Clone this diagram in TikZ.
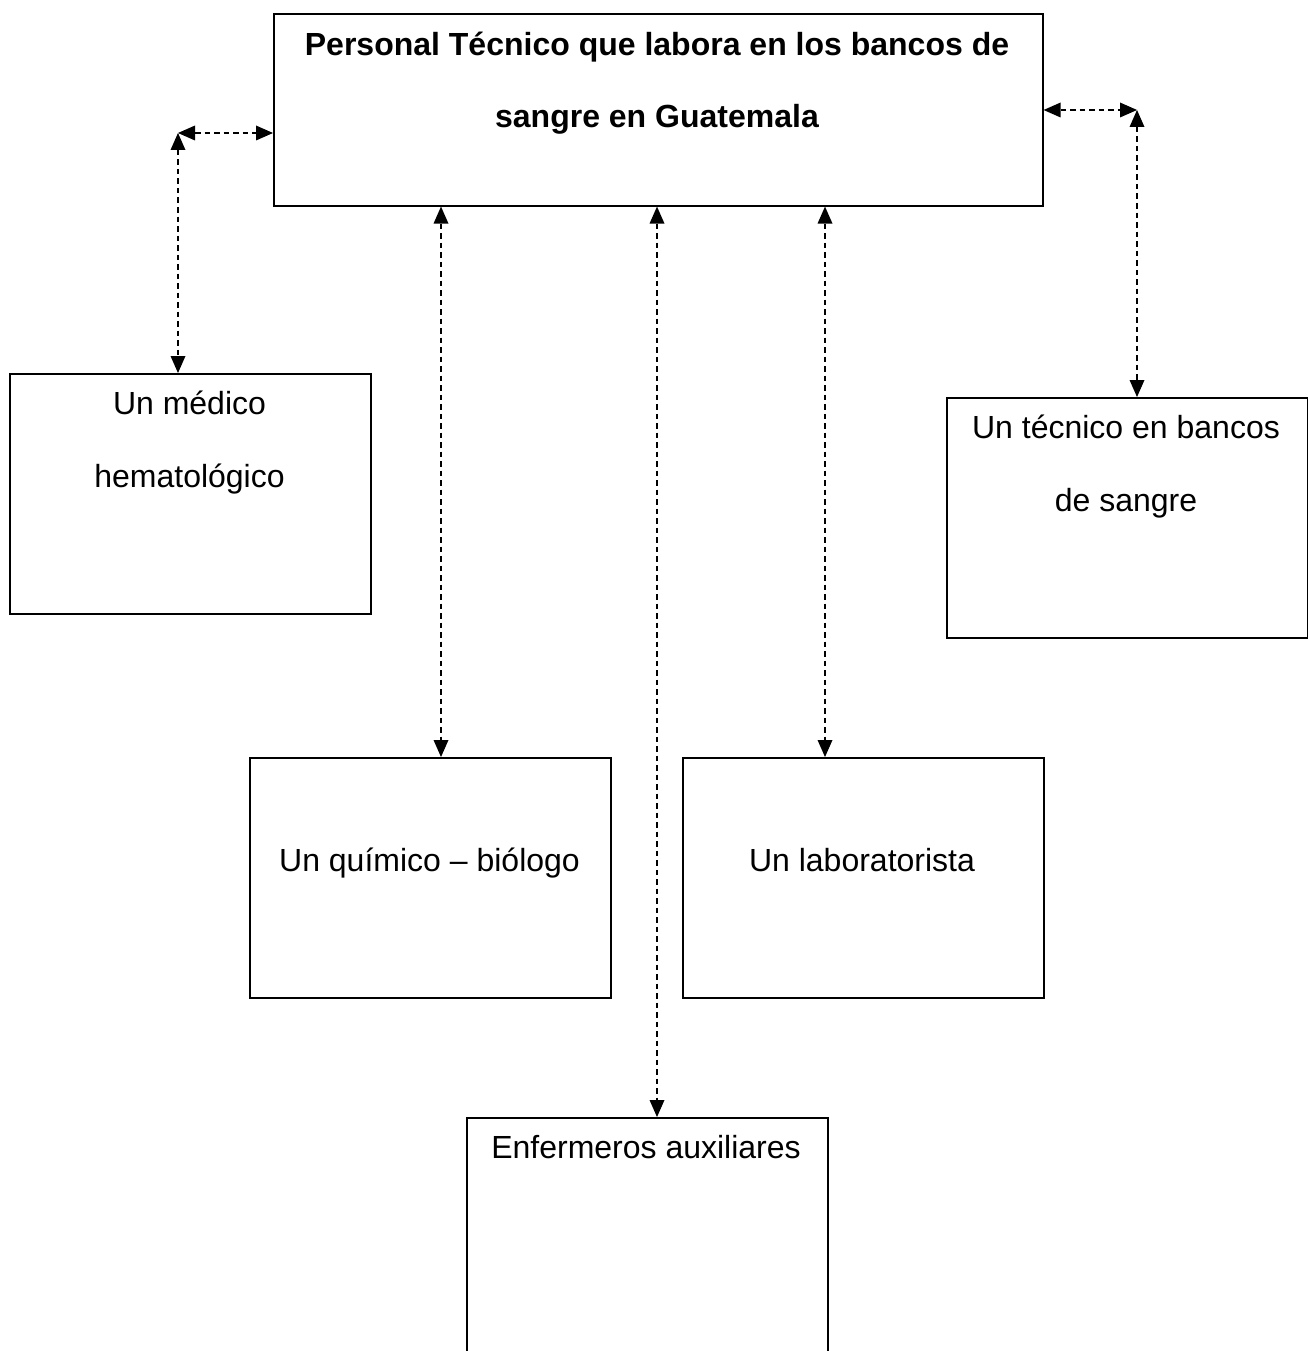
\documentclass[tikz,border=0pt]{standalone}
\usepackage{fontspec}
\setmainfont{Liberation Sans}
\usetikzlibrary{arrows.meta}
\begin{document}
\begin{tikzpicture}[x=1pt,y=-1pt,
  box/.style={draw, line width=1.6pt, inner sep=0pt, anchor=north west,
              minimum width=#1, minimum height=240pt},
  box/.default=361pt,
  lbl/.style={font=\fontsize{32}{32}\selectfont, inner sep=0pt, anchor=base},
  title/.style={lbl, font=\fontsize{32}{32}\selectfont\bfseries},
  link/.style={line width=1.5pt, dash pattern=on 5.5pt off 4pt,
               >={Triangle[length=17pt,width=15pt,line width=0pt]}, <->}]
  \useasboundingbox (0,0) rectangle (1307,1351);
  \fill[white] (0,0) rectangle (1307,1351);

  % boxes
  \node[box=769pt, minimum height=192pt] (top) at (273,13) {};
  \node[box] (med) at (9,373) {};
  \node[box] (tec) at (946,397) {};
  \node[box] (qui) at (249,757) {};
  \node[box] (lab) at (682,757) {};
  \node[box, minimum height=300pt] (enf) at (466,1117) {};

  % texts
  \node[title] (t1) at (657,56) {Personal Técnico que labora en los bancos de};
  \node[title] (t2) at (657,128) {sangre en Guatemala};
  \node[lbl] (m1) at (189.5,414) {Un médico};
  \node[lbl] (m2) at (189.5,487) {hematológico};
  \node[lbl] (c1) at (1126,438) {Un técnico en bancos};
  \node[lbl] (c2) at (1126,511) {de sangre};
  \node[lbl] (q1) at (429.5,871) {Un químico – biólogo};
  \node[lbl] (l1) at (862,871) {Un laboratorista};
  \node[lbl] (e1) at (646,1158) {Enfermeros auxiliares};

  % connector corners and columns
  \coordinate (cL) at (178,133);
  \coordinate (cR) at (1137,110);
  \coordinate (xq) at (441,0);
  \coordinate (xe) at (657,0);
  \coordinate (xl) at (825,0);

  % connectors
  \draw[link] (cL) -- (cL -| top.west);
  \draw[link] (cL) -- (cL |- med.north);
  \draw[link] (cR -| top.east) -- (cR);
  \draw[link] (cR) -- (cR |- tec.north);
  \draw[link] (top.south -| xq) -- (qui.north -| xq);
  \draw[link] (top.south -| xe) -- (enf.north -| xe);
  \draw[link] (top.south -| xl) -- (lab.north -| xl);
\end{tikzpicture}
\end{document}
